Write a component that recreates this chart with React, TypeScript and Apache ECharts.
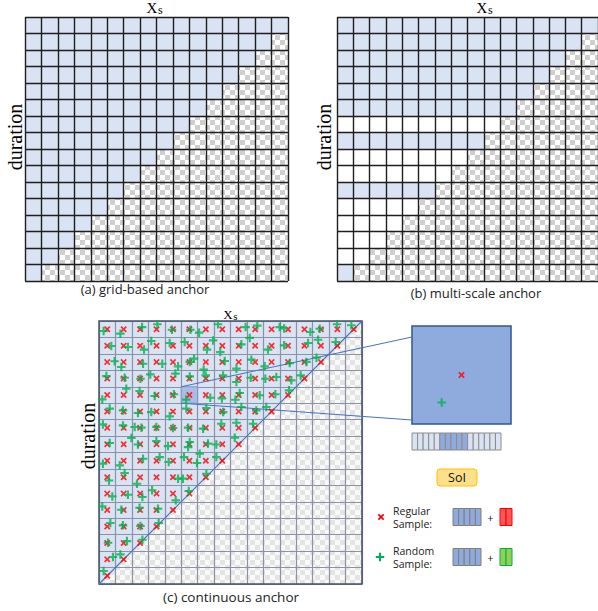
import React, { useEffect, useRef } from 'react';
import * as echarts from 'echarts';

// ---------- data ----------
const N = 16;
// (a) number of blue anchor cells per row (top to bottom)
const aBlueRowLength = [16, 15, 14, 13, 12, 11, 10, 9, 8, 7, 6, 5, 4, 3, 2, 1];
// (b) valid cells per row and whether the row holds an anchor scale
const bRowLength = [16, 15, 14, 13, 12, 11, 10, 9, 8, 7, 6, 5, 4, 3, 2, 1];
const bRowFill = ['blue', 'blue', 'blue', 'blue', 'blue', 'blue', 'white', 'blue', 'white', 'white', 'blue', 'white', 'white', 'white', 'white', 'blue'];
// (c) regular samples per row (cell centres)
const cRegularRowLength = [16, 15, 14, 13, 12, 11, 10, 9, 8, 7, 6, 5, 4, 3, 2, 1];
// (c) random samples [xs, duration-from-top] in cell units
const randomSamples: number[][] = [
  [0.28, 0.61], [1.3, 0.77], [2.62, 0.37], [3.55, 0.2], [4.44, 0.53], [5.56, 0.53], [6.09, 0.71], [7.24, 0.2], [8.92, 0.37], [9.63, 0.28], [10.99, 0.37], [11.26, 0.45], [12.86, 0.67], [13.43, 0.47], [14.48, 0.2], [15.35, 0.26],
  [0.75, 1.52], [1.76, 1.58], [2.74, 1.74], [3.18, 1.22], [4.3, 1.34], [5.21, 1.28], [6.94, 1.18], [6.57, 1.74], [7.38, 1.89], [8.66, 1.42], [9.17, 1.03], [10.28, 1.74], [11.26, 1.48], [12.72, 1.34], [13.33, 1.14], [14.4, 1.28],
  [0.95, 2.45], [1.36, 2.8], [2.68, 2.6], [3.85, 2.6], [4.81, 2.76], [5.52, 2.49], [5.78, 2.29], [7.65, 2.43], [9.27, 2.35], [10.08, 2.76], [11.6, 2.56], [12.62, 2.49], [13.23, 2.23],
  [0.45, 3.35], [1.56, 3.45], [2.52, 3.51], [3.12, 3.25], [4.65, 3.2], [5.52, 3.37], [6.37, 2.96], [6.49, 3.31], [7.55, 3.31], [8.36, 2.9], [8.36, 3.71], [9.23, 3.45], [10.12, 3.51], [10.79, 3.41], [11.7, 3.61], [12.27, 3.31],
  [0.2, 4.77], [1.66, 4.12], [2.47, 4.26], [3.39, 4.56], [4.56, 4.46], [5.3, 4.78], [6.77, 4.67], [7.48, 4.71], [8.3, 4.79], [8.56, 4.38], [9.78, 4.52], [10.73, 4.46], [11.56, 4.22],
  [0.65, 5.33], [1.46, 5.44], [2.37, 5.6], [3.18, 5.54], [4.3, 5.8], [5.31, 5.33], [6.53, 5.29], [7.55, 5.54], [8.66, 5.23], [9.57, 5.44], [10.18, 5.23],
  [0.24, 6.29], [1.46, 6.35], [2.17, 6.45], [2.58, 6.49], [3.49, 6.45], [4.5, 6.51], [5.42, 6.49], [6.33, 6.55], [7.44, 6.25], [8.36, 6.19], [9.37, 6.25],
  [0.65, 7.42], [1.97, 7.12], [2.37, 7.51], [3.49, 7.3], [4.2, 7.61], [5.42, 7.67], [5.52, 7.36], [6.63, 7.46], [7.14, 7.51], [8.26, 7.1],
  [0.24, 8.68], [1.26, 8.78], [2.68, 8.38], [3.69, 8.28], [4.24, 8.58], [5.17, 8.28], [6.13, 8.07], [5.96, 8.64], [7.14, 8.28],
  [0.61, 9.7], [1.56, 9.25], [2.31, 9.9], [4.81, 9.59], [5.11, 9.59], [6.53, 9.29],
  [0.81, 10.67], [1.76, 10.57], [2.64, 10.71], [3.23, 10.3], [4.67, 10.91], [5.46, 10.34],
  [0.2, 11.28], [1.36, 11.48], [2.47, 11.36], [3.59, 11.42],
  [0.69, 12.29], [1.46, 12.43], [2.52, 12.47], [3.63, 12.29],
  [0.55, 13.49], [1.7, 13.39], [2.64, 13.31],
  [0.85, 14.36], [1.3, 14.2],
  [0.28, 15.21],
];
const diagonal = [[0, 16], [16, 0]];
const zoomCell = [5, 4];
const featureShade = [0, 0, 0, 0, 0, 1, 1, 1, 1, 1, 0, 0, 0, 0, 0, 0];
const regularFeature = ['base', 'base', 'base', 'base', 'base', 'extra', 'extra'];

// ---------- styles ----------
const BLUE = '#dae3f3';
const DARK_BLUE = '#8faadc';
const X_PATH = 'path://M0,1.5L1.5,0L4,2.5L6.5,0L8,1.5L5.5,4L8,6.5L6.5,8L4,5.5L1.5,8L0,6.5L2.5,4Z';
const PLUS_PATH = 'path://M3,0H5V3H8V5H5V8H3V5H0V3H3Z';
const SANS = '"Open Sans", "Noto Sans", sans-serif';
const SERIF = '"Liberation Serif", "DejaVu Serif", serif';

function crossPts(cx: number, cy: number, s: number) {
  const p = [[0, 1.5], [1.5, 0], [4, 2.5], [6.5, 0], [8, 1.5], [5.5, 4], [8, 6.5], [6.5, 8], [4, 5.5], [1.5, 8], [0, 6.5], [2.5, 4]];
  return p.map(([x, y]) => [cx + (x - 4) * s / 8, cy + (y - 4) * s / 8]);
}
function plusPts(cx: number, cy: number, s: number) {
  const p = [[3, 0], [5, 0], [5, 3], [8, 3], [8, 5], [5, 5], [5, 8], [3, 8], [3, 5], [0, 5], [0, 3], [3, 3]];
  return p.map(([x, y]) => [cx + (x - 4) * s / 8, cy + (y - 4) * s / 8]);
}

export default function App() {
  const ref = useRef<HTMLDivElement>(null);
  useEffect(() => {
    const el = ref.current!;
    const chart = echarts.init(el, null, { renderer: 'svg' });

    const makeChecker = (a: string, b: string, s: number) => {
      const cv = document.createElement('canvas');
      cv.width = s * 2; cv.height = s * 2;
      const ctx = cv.getContext('2d')!;
      ctx.fillStyle = b; ctx.fillRect(0, 0, s * 2, s * 2);
      ctx.fillStyle = a; ctx.fillRect(0, 0, s, s); ctx.fillRect(s, s, s, s);
      return { image: cv.toDataURL(), repeat: 'repeat', imageWidth: s * 2, imageHeight: s * 2 } as any;
    };
    const checkAB = makeChecker('#cfcfcf', '#ffffff', 5);
    const checkC = makeChecker('#e4e4e4', '#f9f9f9', 5);

    const cellsA: number[][] = [];
    const cellsB: number[][] = [];
    for (let r = 0; r < N; r++) {
      for (let c = 0; c < N; c++) {
        cellsA.push([c, r, c < aBlueRowLength[r] ? 0 : 2]);
        cellsB.push([c, r, c < bRowLength[r] ? (bRowFill[r] === 'blue' ? 0 : 1) : 2]);
      }
    }
    const regular: number[][] = [];
    cRegularRowLength.forEach((len, r) => {
      for (let c = 0; c < len; c++) regular.push([c + 0.5, r + 0.5]);
    });

    const cellRender = (params: any, api: any) => {
      const c = api.value(0), r = api.value(1), t = api.value(2);
      const p0 = api.coord([c, r]);
      const p1 = api.coord([c + 1, r + 1]);
      return {
        type: 'rect',
        shape: { x: p0[0], y: p0[1], width: p1[0] - p0[0], height: p1[1] - p0[1] },
        style: { fill: t === 0 ? BLUE : t === 1 ? '#ffffff' : checkAB },
      };
    };

    const mkX = (i: number, color: string, width: number, z: number, show = true) => ({
      gridIndex: i, type: 'value', min: i === 3 ? zoomCell[0] : 0, max: i === 3 ? zoomCell[0] + 1 : N, interval: 1, show,
      axisLabel: { show: false }, axisTick: { show: false }, axisLine: { show: false },
      splitLine: { show: true, lineStyle: { color, width } }, z,
    });
    const mkY = (i: number, color: string, width: number, z: number, show = true) => ({
      gridIndex: i, type: 'value', inverse: true, min: i === 3 ? zoomCell[1] : 0, max: i === 3 ? zoomCell[1] + 1 : N, interval: 1, show,
      axisLabel: { show: false }, axisTick: { show: false }, axisLine: { show: false },
      splitLine: { show: true, lineStyle: { color, width } }, z,
    });

    const graphic: any[] = [];
    // titles x_s
    const titles = [[152, 7.5, 15, 12], [482, 7.5, 15, 12], [228, 314, 13, 11]];
    titles.forEach(([x, y, fs, fss]) => {
      graphic.push({ type: 'text', x, y, style: { text: 'X', fontFamily: SERIF, fontSize: fs, fill: '#000', align: 'center', verticalAlign: 'middle' } });
      graphic.push({ type: 'text', x: x + fs * 0.36 + 0.5, y: y + fs * 0.18, style: { text: 's', fontFamily: SERIF, fontSize: fss, fill: '#000', align: 'left', verticalAlign: 'middle' } });
    });
    [[15, 137], [324, 137], [88, 436]].forEach(([x, y]) => {
      graphic.push({ type: 'text', x, y, rotation: Math.PI / 2, style: { text: 'duration', fontFamily: SERIF, fontSize: 20, fill: '#000', align: 'center', verticalAlign: 'middle' } });
    });
    [['(a) grid-based anchor', 145, 289, 13], ['(b) multi-scale anchor', 476, 293, 13], ['(c) continuous anchor', 231, 597, 13.5]].forEach(([t, x, y, fs]) => {
      graphic.push({ type: 'text', x, y, style: { text: t, fontFamily: SANS, fontSize: fs, fill: '#222', align: 'center', verticalAlign: 'middle' } });
    });
    // feature bar
    const fbW = 89 / featureShade.length;
    featureShade.forEach((s, i) => {
      graphic.push({ type: 'rect', shape: { x: 412 + i * fbW, y: 433, width: fbW, height: 17 }, style: { fill: s ? DARK_BLUE : BLUE, stroke: '#8c8c8c', lineWidth: 1 } });
    });
    // SoI
    graphic.push({ type: 'rect', shape: { x: 437, y: 469, width: 40, height: 17, r: 3 }, style: { fill: '#ffe08a', stroke: '#ffc000', lineWidth: 1 } });
    graphic.push({ type: 'text', x: 457, y: 477.5, style: { text: 'SoI', fontFamily: SANS, fontSize: 12.5, fill: '#111', align: 'center', verticalAlign: 'middle' } });
    // legend
    const legendRows = [
      { y: 517, l1: 'Regular', l2: 'Sample:', extraFill: '#ff5757', extraStroke: '#ff0000', marker: 'x' },
      { y: 557, l1: 'Random', l2: 'Sample:', extraFill: '#92d050', extraStroke: '#00b050', marker: '+' },
    ];
    legendRows.forEach((row) => {
      if (row.marker === 'x') {
        graphic.push({ type: 'polygon', shape: { points: crossPts(381, row.y, 6.5) }, style: { fill: '#ff0000' } });
      } else {
        graphic.push({ type: 'polygon', shape: { points: plusPts(380, row.y, 8.5) }, style: { fill: '#00b050' } });
      }
      graphic.push({ type: 'text', x: 393, y: row.y - 6.5, style: { text: row.l1, fontFamily: SANS, fontSize: 10.5, fill: '#222', align: 'left', verticalAlign: 'middle' } });
      graphic.push({ type: 'text', x: 393, y: row.y + 6.5, style: { text: row.l2, fontFamily: SANS, fontSize: 10.5, fill: '#222', align: 'left', verticalAlign: 'middle' } });
      let bx = 453;
      regularFeature.forEach((k, i) => {
        if (k === 'base') {
          graphic.push({ type: 'rect', shape: { x: bx, y: row.y - 8.5, width: 5.6, height: 17 }, style: { fill: DARK_BLUE, stroke: '#7f7f7f', lineWidth: 1 } });
          bx += 5.6;
        } else {
          if (regularFeature[i - 1] === 'base') bx = 500;
          graphic.push({ type: 'rect', shape: { x: bx, y: row.y - 8.5, width: 6, height: 17 }, style: { fill: row.extraFill, stroke: row.extraStroke, lineWidth: 1 } });
          bx += 6;
        }
      });
      graphic.push({ type: 'text', x: 490.5, y: row.y, style: { text: '+', fontFamily: SANS, fontSize: 11, fill: '#222', align: 'center', verticalAlign: 'middle' } });
    });

    const option: any = {
      animation: false,
      backgroundColor: '#ffffff',
      grid: [
        { left: 25, top: 17, width: 263, height: 264 },
        { left: 337, top: 17, width: 263, height: 264 },
        { left: 99, top: 321, width: 263, height: 263 },
        { left: 412, top: 326, width: 99, height: 98, show: true, backgroundColor: DARK_BLUE, borderColor: '#2f5597', borderWidth: 1.5, z: 1 },
      ],
      xAxis: [mkX(0, '#1e1e1e', 1.4, 3), mkX(1, '#1e1e1e', 1.4, 3), mkX(2, '#8a93a3', 1.2, 3), mkX(3, '#000', 0, 0, false)],
      yAxis: [mkY(0, '#1e1e1e', 1.4, 3), mkY(1, '#1e1e1e', 1.4, 3), mkY(2, '#8a93a3', 1.2, 3), mkY(3, '#000', 0, 0, false)],
      graphic,
      series: [
        { type: 'custom', xAxisIndex: 0, yAxisIndex: 0, data: cellsA, renderItem: cellRender, z: 2 },
        { type: 'custom', xAxisIndex: 1, yAxisIndex: 1, data: cellsB, renderItem: cellRender, z: 2 },
        {
          type: 'custom', xAxisIndex: 2, yAxisIndex: 2, data: [diagonal[0].concat(diagonal[1])], z: 2,
          renderItem: (params: any, api: any) => {
            const a = api.coord([api.value(0), api.value(1)]);
            const b = api.coord([api.value(2), api.value(3)]);
            const tl = api.coord([0, 0]);
            const br = api.coord([N, N]);
            return {
              type: 'group', children: [
                { type: 'polygon', shape: { points: [tl, b, a] }, style: { fill: BLUE } },
                { type: 'polygon', shape: { points: [b, [br[0], br[1]], a] }, style: { fill: checkC } },
              ],
            };
          },
        },
        {
          type: 'custom', xAxisIndex: 2, yAxisIndex: 2, data: [zoomCell], z: 4,
          renderItem: (params: any, api: any) => {
            const c = api.value(0), r = api.value(1);
            const p0 = api.coord([c, r]);
            const p1 = api.coord([c + 1, r + 1]);
            const tl = api.coord([0, 0]);
            const br = api.coord([N, N]);
            return {
              type: 'group', children: [
                { type: 'rect', shape: { x: p0[0], y: p0[1], width: p1[0] - p0[0], height: p1[1] - p0[1] }, style: { fill: '#a9bde4', stroke: '#7f95c4', lineWidth: 1 } },
                { type: 'rect', shape: { x: tl[0], y: tl[1], width: br[0] - tl[0], height: br[1] - tl[1] }, style: { fill: 'none', stroke: '#44546a', lineWidth: 1.5 } },
                { type: 'line', shape: { x1: p0[0], y1: p0[1], x2: 412, y2: 337 }, style: { stroke: '#4472c4', lineWidth: 1 } },
                { type: 'line', shape: { x1: p0[0], y1: p1[1], x2: 412, y2: 420 }, style: { stroke: '#4472c4', lineWidth: 1 } },
              ],
            };
          },
        },
        { type: 'line', xAxisIndex: 2, yAxisIndex: 2, data: diagonal, symbol: 'none', lineStyle: { color: '#4472c4', width: 1.1 }, z: 4 },
        { type: 'scatter', xAxisIndex: 2, yAxisIndex: 2, data: regular, symbol: X_PATH, symbolSize: 6.5, itemStyle: { color: '#ff0000' }, z: 5 },
        { type: 'scatter', xAxisIndex: 2, yAxisIndex: 2, data: randomSamples, symbol: PLUS_PATH, symbolSize: 8.5, itemStyle: { color: '#00b050' }, z: 6 },
        { type: 'scatter', xAxisIndex: 3, yAxisIndex: 3, data: regular, clip: true, symbol: X_PATH, symbolSize: 6.5, itemStyle: { color: '#ff0000' }, z: 5 },
        { type: 'scatter', xAxisIndex: 3, yAxisIndex: 3, data: randomSamples, clip: true, symbol: PLUS_PATH, symbolSize: 8.5, itemStyle: { color: '#00b050' }, z: 6 },
      ],
    };
    chart.setOption(option);
    return () => chart.dispose();
  }, []);
  return <div ref={ref} style={{ position: 'absolute', left: 0, top: 0, width: 598, height: 611 }} />;
}
